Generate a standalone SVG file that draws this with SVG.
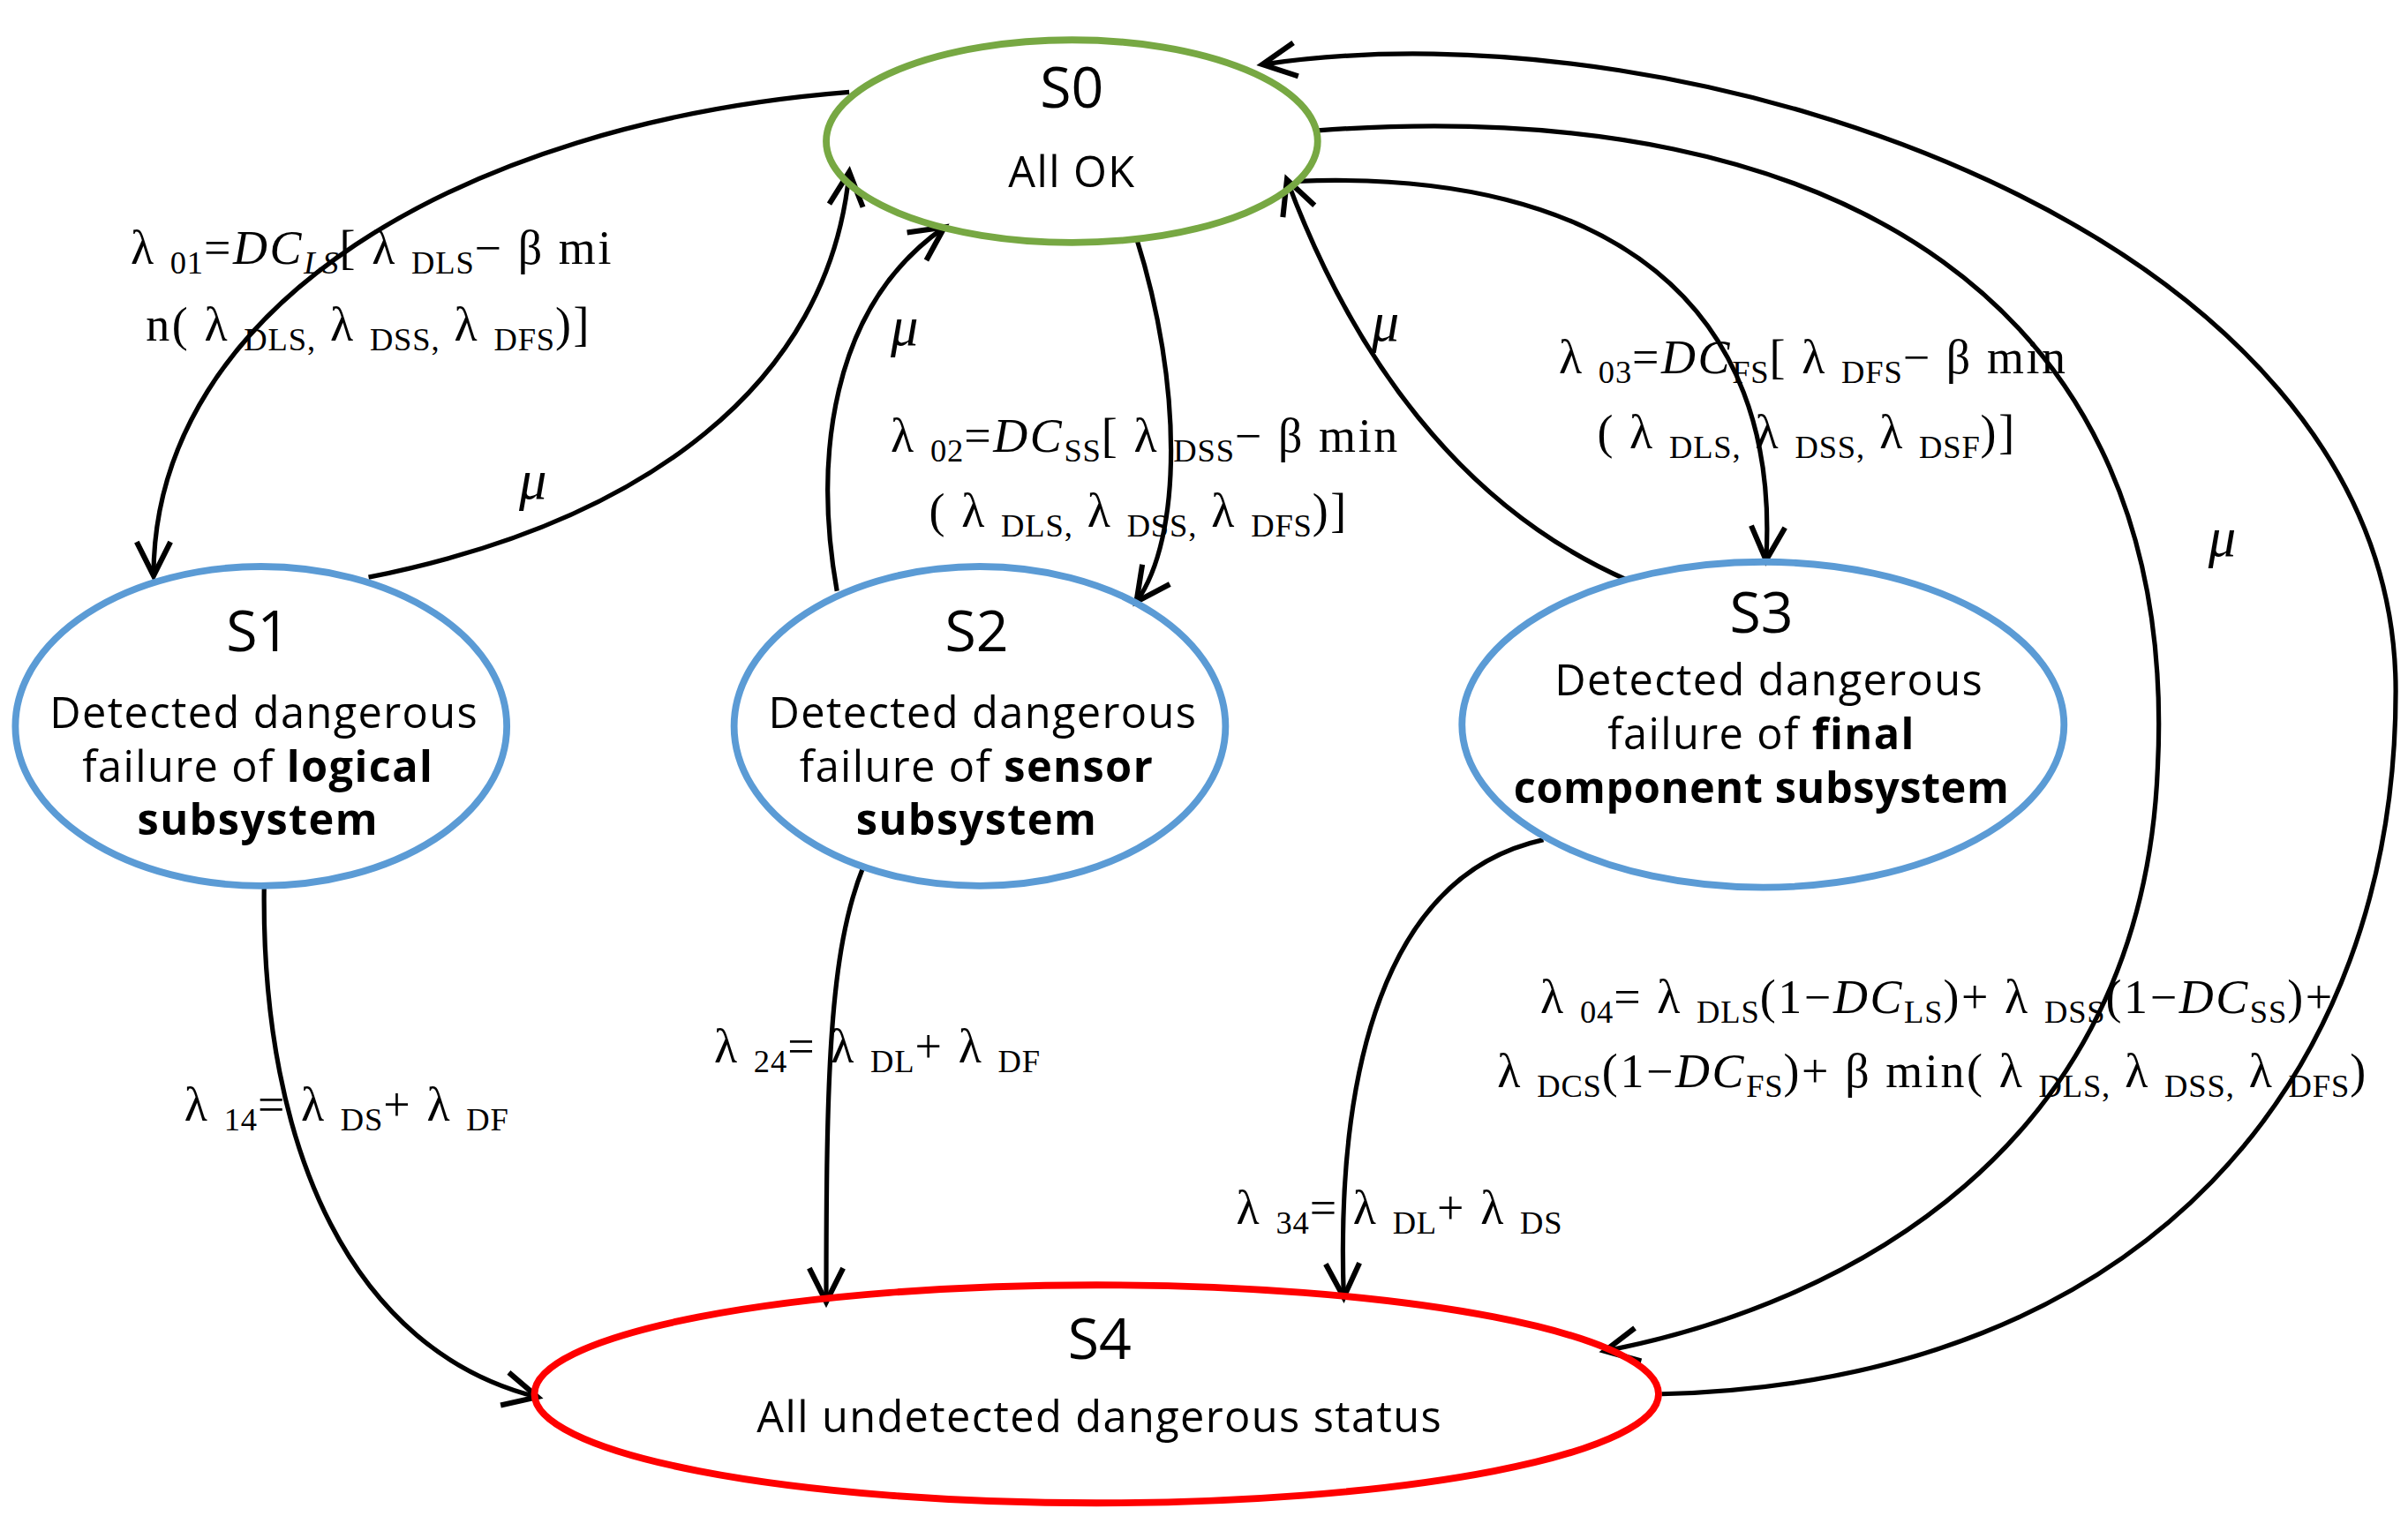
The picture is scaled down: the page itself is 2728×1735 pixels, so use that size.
<svg xmlns="http://www.w3.org/2000/svg" width="2728" height="1735" viewBox="0 0 2728 1735">
<style>
.n{fill:none;stroke-width:4.5}
.c{fill:none;stroke:#000;stroke-width:3;marker-end:url(#ah)}
.t{font-family:"Open Sans","DejaVu Sans",sans-serif;font-size:28px;letter-spacing:0.8px;text-anchor:middle;fill:#000}
.h{font-size:37px;letter-spacing:0}
.b{font-weight:bold}
.l{font-family:"Liberation Serif","Times New Roman",serif;font-size:31px;letter-spacing:1.5px;fill:#000}
.s{font-size:21px;letter-spacing:0.5px;baseline-shift:-30%}
.i{font-style:italic}
.m{font-size:36px}
</style>
<defs>
<marker id="ah" markerUnits="userSpaceOnUse" markerWidth="30" markerHeight="30" viewBox="0 0 30 30" refX="26" refY="15" orient="auto">
<path d="M4,4 L26,15 L4,26" fill="none" stroke="#000" stroke-width="3.5"/>
</marker>
</defs>
<rect width="2728" height="1735" fill="#fff"/>
<g transform="scale(1.7398)">
<g id="connectors">
<path class="c" d="M553,60 C300,80 100,200 100,375"/>
<path class="c" d="M240,376 C420,340 540,250 553,112"/>
<path class="c" d="M545,385 C530,300 540,200 615,148"/>
<path class="c" d="M740,155 C770,250 770,350 740,392"/>
<path class="c" d="M1060,378 C950,330 880,230 838,117"/>
<path class="c" d="M845,118 C1050,110 1160,200 1150,365"/>
<path class="c" d="M858,85 C1200,60 1420,200 1405,500 C1395,750 1200,850 1045,880"/>
<path class="c" d="M1082,908 C1400,900 1560,700 1560,450 C1560,150 1100,0 822,42"/>
<path class="c" d="M172,578 C170,750 230,880 350,910"/>
<path class="c" d="M562,565 C540,620 538,700 538,848"/>
<path class="c" d="M1005,547 C900,570 870,700 875,845"/>
</g>
<g id="S0"><ellipse class="n" stroke="#77a843" cx="698" cy="92" rx="160" ry="66"/>
<text class="t h" x="698" y="70">S0</text><text class="t" x="698" y="122">All OK</text></g>
<g id="S1"><ellipse class="n" stroke="#5b9bd5" cx="170" cy="473" rx="160" ry="104"/>
<text class="t h" x="168" y="424">S1</text><text class="t" x="172" y="474">Detected dangerous</text><text class="t" x="168" y="509">failure of <tspan class="b">logical</tspan></text><text class="t b" x="168" y="544">subsystem</text></g>
<g id="S2"><ellipse class="n" stroke="#5b9bd5" cx="638" cy="473" rx="160" ry="104"/>
<text class="t h" x="636" y="424">S2</text><text class="t" x="640" y="474">Detected dangerous</text><text class="t" x="636" y="509">failure of <tspan class="b">sensor</tspan></text><text class="t b" x="636" y="544">subsystem</text></g>
<g id="S3"><ellipse class="n" stroke="#5b9bd5" cx="1148" cy="472" rx="196" ry="106"/>
<text class="t h" x="1147" y="412">S3</text><text class="t" x="1152" y="453">Detected dangerous</text><text class="t" x="1147" y="488">failure of <tspan class="b">final</tspan></text><text class="t b" x="1147" y="523" style="letter-spacing:0.3px">component subsystem</text></g>
<g id="S4"><ellipse class="n" stroke="#ff0000" cx="714" cy="908" rx="366" ry="71"/>
<text class="t h" x="716" y="885">S4</text><text class="t" x="716" y="933">All undetected dangerous status</text></g>
<g id="labels">
<text class="l" x="85" y="172">λ <tspan class="s">01</tspan>=<tspan class="i">DC</tspan><tspan class="s i">LS</tspan>[ λ <tspan class="s">DLS</tspan>− β mi</text>
<text class="l" x="95" y="222">n( λ <tspan class="s">DLS,</tspan> λ <tspan class="s">DSS,</tspan> λ <tspan class="s">DFS</tspan>)]</text>
<text class="l i m" x="338" y="325">μ</text>
<text class="l i m" x="580" y="225">μ</text>
<text class="l i m" x="893" y="222">μ</text>
<text class="l i m" x="1438" y="362">μ</text>
<text class="l" x="580" y="294">λ <tspan class="s">02</tspan>=<tspan class="i">DC</tspan><tspan class="s">SS</tspan>[ λ <tspan class="s">DSS</tspan>− β min</text>
<text class="l" x="605" y="343">( λ <tspan class="s">DLS,</tspan> λ <tspan class="s">DSS,</tspan> λ <tspan class="s">DFS</tspan>)]</text>
<text class="l" x="1015" y="243">λ <tspan class="s">03</tspan>=<tspan class="i">DC</tspan><tspan class="s">FS</tspan>[ λ <tspan class="s">DFS</tspan>− β min</text>
<text class="l" x="1040" y="292">( λ <tspan class="s">DLS,</tspan> λ <tspan class="s">DSS,</tspan> λ <tspan class="s">DSF</tspan>)]</text>
<text class="l" x="1003" y="660">λ <tspan class="s">04</tspan>= λ <tspan class="s">DLS</tspan>(1−<tspan class="i">DC</tspan><tspan class="s">LS</tspan>)+ λ <tspan class="s">DSS</tspan>(1−<tspan class="i">DC</tspan><tspan class="s">SS</tspan>)+</text>
<text class="l" x="975" y="708">λ <tspan class="s">DCS</tspan>(1−<tspan class="i">DC</tspan><tspan class="s">FS</tspan>)+ β min( λ <tspan class="s">DLS,</tspan> λ <tspan class="s">DSS,</tspan> λ <tspan class="s">DFS</tspan>)</text>
<text class="l" x="120" y="730">λ <tspan class="s">14</tspan>= λ <tspan class="s">DS</tspan>+ λ <tspan class="s">DF</tspan></text>
<text class="l" x="465" y="692">λ <tspan class="s">24</tspan>= λ <tspan class="s">DL</tspan>+ λ <tspan class="s">DF</tspan></text>
<text class="l" x="805" y="797">λ <tspan class="s">34</tspan>= λ <tspan class="s">DL</tspan>+ λ <tspan class="s">DS</tspan></text>
</g>
</g>
</svg>
